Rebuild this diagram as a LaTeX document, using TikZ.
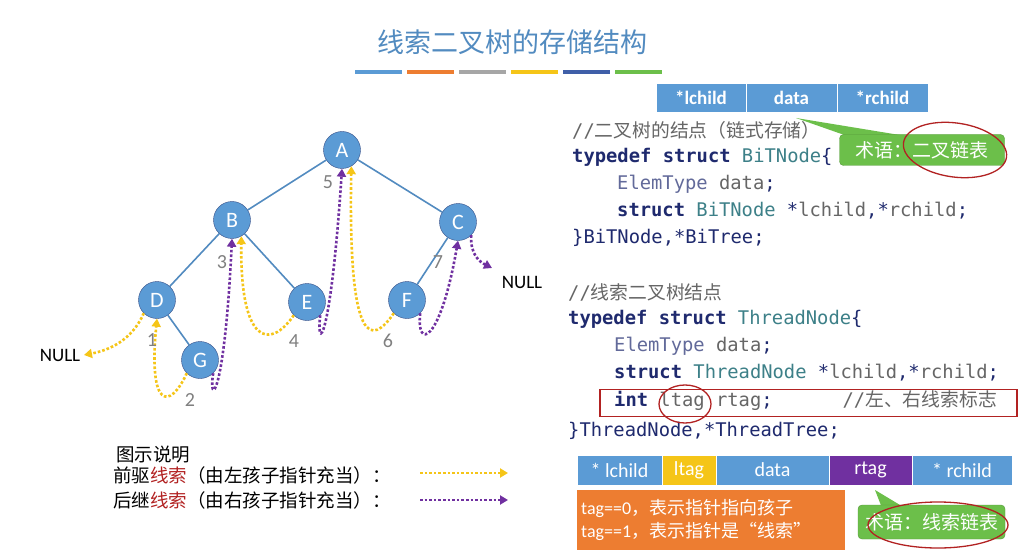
\documentclass[tikz,border=0pt]{standalone}
\usepackage{fontspec}
\setmainfont{Carlito}
\setmonofont{DejaVu Sans Mono}
\newfontfamily\cjk{Noto Sans CJK SC}
\usetikzlibrary{arrows.meta}
\definecolor{nblue}{HTML}{5B9BD5}
\definecolor{tblue}{HTML}{3F5FA8}
\definecolor{ylw}{HTML}{F5C518}
\definecolor{prp}{HTML}{7030A0}
\definecolor{org}{HTML}{ED7D31}
\definecolor{grn}{HTML}{6CBF4A}
\definecolor{kw}{HTML}{1F2A6E}
\definecolor{ty}{HTML}{3D8088}
\definecolor{cm}{HTML}{666666}
\definecolor{rd}{HTML}{B22222}
\begin{document}
\begin{tikzpicture}[x=1pt,y=-1pt,
 tn/.style={circle,draw=tblue!80!black,fill=nblue,minimum size=37pt,inner sep=0pt,text=white,font=\fontsize{22}{22}\selectfont},
 edge/.style={draw=nblue!90!black,line width=1.6pt},
 pre/.style={draw=ylw,line width=2.6pt,dotted,-{Triangle[length=8pt,width=9pt]}},
 suc/.style={draw=prp,line width=2.6pt,dotted,-{Triangle[length=8pt,width=9pt]}},
 num/.style={text=gray,font=\fontsize{20}{20}\selectfont},
 cell/.style={draw=white,line width=1pt,minimum height=29pt,inner sep=0pt,text=white,font=\bfseries\fontsize{19}{19}\selectfont},
 bcell/.style={draw=white,line width=1pt,minimum height=30pt,inner sep=0pt,text=white,font=\fontsize{20}{20}\selectfont},
 code/.style={anchor=west,inner sep=0pt,font=\ttfamily\fontsize{18.8}{20}\selectfont},
 lg/.style={anchor=west,inner sep=0pt,font=\cjk\fontsize{18.5}{20}\selectfont}]
\useasboundingbox (0,0) rectangle (1024,553);
\fill[white] (0,0) rectangle (1024,553);
% title
\node[text=nblue!90!black,font=\cjk\fontsize{27}{29}\selectfont] (title) at (512,42) {线索二叉树的存储结构};
\foreach \c [count=\i from 0] in {nblue,org,gray!70,ylw,tblue,grn}
  \fill[\c] (355+\i*52,70) rectangle (402+\i*52,74);
% tree
\node[tn] (A) at (342,150) {A};
\node[tn] (B) at (232,220) {B};
\node[tn] (C) at (458,222) {C};
\node[tn] (D) at (157,300) {D};
\node[tn] (E) at (307,302) {E};
\node[tn] (F) at (407,300) {F};
\node[tn] (G) at (200,360) {G};
\draw[edge] (A)--(B) (A)--(C) (B)--(D) (B)--(E) (D)--(G) (C)--(F);
\node[font=\fontsize{19}{19}\selectfont] (n1) at (60,355) {NULL};
\node[font=\fontsize{19}{19}\selectfont] (n2) at (522,282) {NULL};
\coordinate (nl) at (84,355);
\coordinate (nr) at (492,268);
\draw[pre] (D.south west) .. controls (132,340) and (110,350) .. (nl);
\draw[pre] (G.south west) .. controls (170,410) and (148,410) .. (D.south);
\draw[suc] (G.south east) .. controls (208,405) and (224,405) .. (B.south);
\draw[pre] (E.south west) .. controls (270,350) and (240,345) .. (B.-60);
\draw[suc] (E.south east) .. controls (316,350) and (330,350) .. (A.south);
\draw[pre] (F.south west) .. controls (372,345) and (348,350) .. (A.-60);
\draw[suc] (F.south east) .. controls (416,350) and (440,345) .. (C.south);
\draw[suc] (C.-45) .. controls (470,255) and (480,262) .. (nr);
\node[num] at (152,340) {1};
\node[num] at (190,400) {2};
\node[num] at (222,262) {3};
\node[num] at (294,341) {4};
\node[num] at (328,182) {5};
\node[num] at (388,341) {6};
\node[num] at (438,262) {7};
% top table
\node[cell,fill=nblue,minimum width=90pt] (t1) at (701,98) {*lchild};
\node[cell,fill=nblue,minimum width=91pt] (t2) at (791.5,98) {data};
\node[cell,fill=nblue,minimum width=91pt] (t3) at (882.5,98) {*rchild};
% code block 1
\node[code,text=cm] (c1) at (572,130) {//{\cjk 二叉树的结点（链式存储）}};
\node[code] (c2) at (572,157) {\textcolor{kw}{\bfseries typedef struct} \textcolor{ty}{BiTNode}\textcolor{kw}{\{}};
\node[code] (c3) at (617,184) {\textcolor{kw!70}{ElemType} \textcolor{cm}{data}\textcolor{kw}{;}};
\node[code] (c4) at (617,211) {\textcolor{kw}{\bfseries struct} \textcolor{ty}{BiTNode}  \textcolor{kw}{*}\textcolor{cm}{lchild}\textcolor{kw}{,*}\textcolor{cm}{rchild}\textcolor{kw}{;}};
\node[code,text=kw] (c5) at (572,238) {\}BiTNode,*BiTree;};
% green callout 1
\fill[grn] (796,118) -- (850,137) -- (912,137) -- cycle;
\node[fill=grn,rounded corners=4pt,draw=grn!80!black,minimum width=165pt,minimum height=31pt,text=white,font=\cjk\fontsize{19}{19}\selectfont] (g1) at (922,150) {术语：二叉链表};
\draw[rd,line width=1.3pt,rotate around={-8:(955,150)}] (955,150) ellipse [x radius=52,y radius=27];
% code block 2
\node[code,text=cm] (d1) at (568,292) {//{\cjk 线索二叉树结点}};
\node[code] (d2) at (568,319) {\textcolor{kw}{\bfseries typedef struct} \textcolor{ty}{ThreadNode}\textcolor{kw}{\{}};
\node[code] (d3) at (614,346) {\textcolor{kw!70}{ElemType} \textcolor{cm}{data}\textcolor{kw}{;}};
\node[code] (d4) at (614,373) {\textcolor{kw}{\bfseries struct} \textcolor{ty}{ThreadNode} \textcolor{kw}{*}\textcolor{cm}{lchild}\textcolor{kw}{,*}\textcolor{cm}{rchild}\textcolor{kw}{;}};
\node[code] (d5) at (614,401) {\textcolor{kw}{\bfseries int} \textcolor{cm}{ltag rtag}\textcolor{kw}{;}\hspace{70pt}\textcolor{cm}{//{\cjk 左、右线索标志}}};
\node[code,text=kw] (d6) at (568,431) {\}ThreadNode,*ThreadTree;};
\node[draw=rd,line width=1.5pt,minimum width=417pt,minimum height=27pt] (rb) at (808.5,403) {};
\draw[rd,line width=1.3pt] (685,404) ellipse [x radius=26,y radius=19];
% legend
\node[lg] (l0) at (116,455) {图示说明};
\node[lg] (l1) at (113,475) {前驱\textcolor{rd}{线索}（由左孩子指针充当）：};
\node[lg] (l2) at (113,500) {后继\textcolor{rd}{线索}（由右孩子指针充当）：};
\coordinate (ya) at (420,473); \coordinate (yb) at (508,473);
\coordinate (pa) at (420,500); \coordinate (pb) at (508,500);
\draw[pre] (ya) -- (yb);
\draw[suc] (pa) -- (pb);
% bottom table
\node[bcell,fill=nblue,minimum width=85pt] (b1) at (619.5,470) {* lchild};
\node[bcell,fill=ylw,minimum width=54pt] (b2) at (689,470) {ltag};
\node[bcell,fill=nblue,minimum width=113pt] (b3) at (772.5,470) {data};
\node[bcell,fill=prp,minimum width=83pt] (b4) at (870.5,470) {rtag};
\node[bcell,fill=nblue,minimum width=100pt] (b5) at (962,470) {* rchild};
\node[fill=org,text width=260pt,minimum height=60pt,text=white,align=left,anchor=north west,inner sep=4pt,font=\cjk\fontsize{18}{23}\selectfont] (ob) at (577,490) {{\fontspec{Carlito}tag==0}，表示指针指向孩子\\{\fontspec{Carlito}tag==1}，表示指针是“线索”};
\fill[grn] (875,490) -- (882,508) -- (905,508) -- cycle;
\node[fill=grn,rounded corners=4pt,draw=grn!80!black,minimum width=147pt,minimum height=34pt,text=white,font=\cjk\fontsize{19}{19}\selectfont] (g2) at (931.5,522) {术语：线索链表};
\draw[rd,line width=1.3pt] (938,525) ellipse [x radius=70,y radius=23];
\end{tikzpicture}
\end{document}
